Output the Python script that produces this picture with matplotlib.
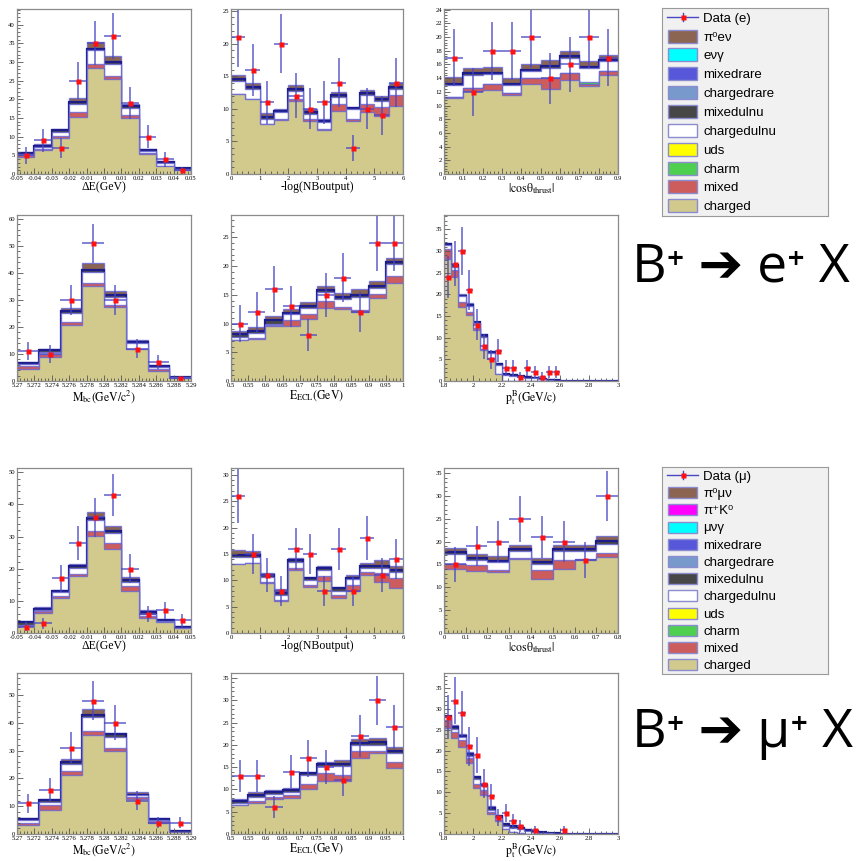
import numpy as np
import matplotlib
matplotlib.use('Agg')
import matplotlib.pyplot as plt
from matplotlib.ticker import MultipleLocator, AutoMinorLocator, FuncFormatter
from matplotlib.patches import Rectangle

plt.rcParams['font.family'] = ['Liberation Serif', 'DejaVu Serif']
plt.rcParams['mathtext.fontset'] = 'stix'

# ---- bin edges ----
de_edges = np.linspace(-0.05, 0.05, 11)
nb_edges = np.linspace(0, 6, 13)
cos_e_edges = np.linspace(0, 0.9, 10)
cos_mu_edges = np.linspace(0, 0.8, 9)
mbc_edges = np.linspace(5.27, 5.29, 9)
ecl_edges = np.linspace(0.5, 1.0, 11)
pt_edges = np.linspace(1.8, 3.0, 25)

# ---- B+ -> e+ X ----
de_e_charged = [4.6, 6.3, 9.6, 15.4, 28.4, 25.5, 14.9, 5.4, 2.1, 1.1]
de_e_mixed = [0.4, 0.3, 0.7, 1.2, 1.0, 0.8, 0.9, 0.3, 0.1, 0.05]
de_e_ulnu = [0.3, 0.5, 1.0, 2.1, 3.7, 3.1, 1.8, 0.5, 0.8, 0.25]
de_e_xulnu = [0.3, 0.5, 0.4, 0.6, 0.5, 0.6, 0.7, 0.3, 0.3, 0.2]
de_e_sig = [0.4, 0.4, 0.3, 1.0, 1.7, 1.7, 0.5, 0.2, 0.2, 0.1]
de_e_data = [5, 9, 7, 25, 35, 37, 19, 10, 4, 1]

nb_e_charged = [12.3, 11.5, 7.6, 8.35, 11.2, 8.1, 6.7, 9.7, 8.1, 9.5, 8.95, 10.5]
nb_e_mixed = [0.0, 0.0, 0.1, 0.15, 0.3, 0.35, 0.2, 1.0, 0.35, 1.2, 1.25, 1.6]
nb_e_ulnu = [1.9, 1.5, 0.8, 1.0, 1.25, 0.75, 1.0, 1.15, 1.45, 1.4, 1.0, 0.9]
nb_e_xulnu = [0.3, 0.3, 0.2, 0.2, 0.25, 0.3, 0.2, 0.25, 0.2, 0.25, 0.35, 0.35]
nb_e_sig = [0.7, 0.6, 0.65, 0.3, 0.7, 0.5, 0.35, 0.5, 0.2, 0.55, 0.45, 0.65]
nb_e_data = [21, 16, 11, 20, 12, 10, 11, 14, 4, 10, 9, 14]

cos_e_charged = [11.1, 12.15, 12.25, 11.5, 13.1, 12.35, 13.7, 12.8, 14.4]
cos_e_mixed = [0.2, 0.45, 0.95, 0.4, 0.85, 1.6, 1.05, 0.4, 0.65]
cos_e_charm = [0, 0, 0, 0, 0, 0, 0, 0.3, 0]
cos_e_ulnu = [1.7, 1.8, 1.4, 1.1, 1.05, 1.6, 2.25, 1.95, 1.45]
cos_e_xulnu = [0.2, 0.3, 0.2, 0.2, 0.25, 0.25, 0.2, 0.2, 0.2]
cos_e_sig = [1.0, 0.8, 0.85, 0.75, 0.85, 0.8, 0.8, 0.85, 0.75]
cos_e_data = [17, 12, 18, 18, 20, 14, 16, 20, 17]

mbc_e_charged = [4.3, 8.8, 20.7, 35.2, 27.3, 11.7, 3.7, 1.0]
mbc_e_mixed = [1.4, 1.1, 1.3, 1.0, 0.8, 0.3, 0.9, 0.05]
mbc_e_ulnu = [0.5, 1.0, 3.1, 4.3, 3.1, 2.0, 0.7, 0.25]
mbc_e_xulnu = [0.3, 0.6, 0.7, 0.6, 0.65, 0.6, 0.3, 0.2]
mbc_e_sig = [0.4, 0.35, 1.4, 2.5, 1.65, 0.6, 0.3, 0.1]
mbc_e_data = [11, 10, 30, 51, 30, 12, 7, 1]

ecl_e_charged = [7.1, 7.3, 9.6, 9.6, 10.8, 12.75, 12.5, 11.95, 14.4, 17.1]
ecl_e_mixed = [0.1, 0.2, 0.1, 1.0, 0.8, 1.15, 0.4, 0.4, 0.7, 1.2]
ecl_e_ulnu = [0.5, 0.8, 0.3, 1.0, 1.15, 1.65, 1.3, 2.35, 1.15, 2.0]
ecl_e_xulnu = [0.5, 0.4, 0.6, 0.3, 0.3, 0.25, 0.35, 0.3, 0.25, 0.35]
ecl_e_sig = [0.5, 0.75, 0.7, 0.6, 0.75, 0.8, 0.85, 0.95, 0.95, 0.85]
ecl_e_data = [10, 12, 16, 13, 8, 15, 18, 12, 24, 24]

pt_e_charged = [28.2, 23.9, 17.0, 15.2, 11.8, 7.15, 5.0, 1.5, 0.1, 0.05, 0, 0,
                0, 0, 0, 0, 0, 0, 0, 0, 0, 0, 0, 0]
pt_e_mixed = [2.2, 1.7, 1.3, 0.8, 0.35, 0.25, 0.2, 0.05, 0, 0, 0, 0,
              0, 0, 0, 0, 0, 0, 0, 0, 0, 0, 0, 0]
pt_e_ulnu = [1.0, 0.8, 1.2, 1.2, 1.15, 2.8, 1.2, 2.1, 1.3, 1.2, 0.9, 0.8,
             0.6, 0.4, 0.2, 0.1, 0, 0, 0, 0, 0, 0, 0, 0]
pt_e_xulnu = [0.3, 0.4, 0.2, 0.3, 0.2, 0.4, 0.4, 0.3, 0.2, 0.2, 0.2, 0.2,
              0.2, 0.15, 0.1, 0.05, 0, 0, 0, 0, 0, 0, 0, 0]
pt_e_sig = [0.1, 0.2, 0.3, 0.4, 0.2, 0.2, 0.2, 0.15, 0.1, 0.1, 0.1, 0.1,
            0.1, 0.05, 0.05, 0.05, 0, 0, 0, 0, 0, 0, 0, 0]
pt_e_data = [24, 27, 30, 21, 13, 8, 5, 7, 3, 3, 1, 3,
             2, 1, 2, 2, 0, 0, 0, 0, 0, 0, 0, 0]

# ---- B+ -> mu+ X ----
de_mu_charged = [2.1, 6.2, 10.9, 17.8, 30.3, 26.1, 13.2, 4.7, 3.3, 1.55]
de_mu_mixed = [0.3, 0.5, 0.5, 0.6, 1.5, 1.9, 1.3, 0.5, 0.2, 0.05]
de_mu_ulnu = [0.2, 0.55, 1.25, 1.8, 3.2, 3.1, 1.3, 0.7, 0.1, 0.1]
de_mu_xulnu = [0.8, 0.35, 0.55, 0.5, 0.8, 0.5, 0.6, 0.6, 0.5, 0.3]
de_mu_sig = [0.4, 0.4, 0.3, 0.9, 1.9, 1.6, 0.9, 0.5, 0.25, 0.1]
de_mu_data = [2, 3, 17, 28, 36, 43, 20, 6, 7, 4]

nb_mu_charged = [13.05, 13.2, 9.55, 6.0, 11.9, 8.65, 9.85, 6.7, 8.0, 11.0, 9.7, 8.5]
nb_mu_mixed = [0.0, 0.0, 0.05, 0.3, 0.5, 0.45, 1.0, 0.5, 1.2, 0.5, 1.6, 1.85]
nb_mu_ulnu = [1.35, 1.2, 1.1, 0.9, 1.1, 0.95, 1.05, 0.8, 1.0, 0.9, 0.95, 1.15]
nb_mu_xulnu = [0.35, 0.35, 0.3, 0.3, 0.3, 0.3, 0.35, 0.5, 0.3, 0.35, 0.45, 0.4]
nb_mu_sig = [1.05, 0.8, 0.4, 0.8, 0.45, 0.35, 0.45, 0.3, 0.5, 0.45, 1.1, 0.8]
nb_mu_data = [26, 15, 11, 8, 16, 15, 8, 16, 8, 18, 11, 14]

cos_mu_charged = [13.95, 13.6, 13.25, 16.15, 11.75, 14.1, 15.95, 16.7]
cos_mu_mixed = [1.15, 1.25, 0.55, 0.3, 2.05, 1.85, 0.2, 0.7]
cos_mu_ulnu = [2.1, 1.1, 1.65, 1.55, 1.4, 2.05, 1.85, 2.15]
cos_mu_xulnu = [0.45, 0.35, 0.35, 0.3, 0.4, 0.3, 0.3, 0.55]
cos_mu_sig = [0.85, 0.9, 1.1, 1.05, 0.9, 0.9, 0.9, 1.05]
cos_mu_data = [15, 19, 20, 25, 21, 20, 16, 30]

mbc_mu_charged = [3.25, 8.7, 21.3, 35.5, 29.9, 12.45, 3.85, 0.6]
mbc_mu_mixed = [0.8, 1.75, 1.4, 1.5, 0.9, 0.95, 0.8, 0.05]
mbc_mu_ulnu = [0.95, 1.15, 2.3, 5.1, 4.1, 0.55, 0.35, 0.15]
mbc_mu_xulnu = [0.5, 0.6, 0.8, 0.7, 0.9, 0.25, 0.5, 0.25]
mbc_mu_sig = [0.3, 0.35, 1.3, 2.2, 0.7, 0.9, 0.3, 0.1]
mbc_mu_data = [11, 16, 31, 48, 40, 12, 4, 4]

ecl_mu_charged = [6.4, 7.0, 7.75, 8.1, 10.0, 11.95, 11.95, 17.0, 18.1, 14.85]
ecl_mu_mixed = [0.1, 0.45, 0.6, 0.6, 1.2, 1.65, 1.25, 1.6, 0.4, 1.25]
ecl_mu_ulnu = [0.4, 0.9, 0.7, 0.7, 2.0, 1.6, 2.0, 1.3, 1.4, 2.0]
ecl_mu_xulnu = [0.5, 0.5, 0.35, 0.4, 0.4, 0.4, 0.5, 0.6, 0.7, 0.5]
ecl_mu_sig = [0.4, 0.55, 0.5, 0.5, 0.3, 0.5, 0.8, 0.9, 1.0, 1.0]
ecl_mu_data = [13, 13, 6, 14, 17, 15, 12, 22, 30, 24]

pt_mu_charged = [25.3, 22.9, 20.9, 17.05, 11.0, 9.45, 4.8, 3.1, 1.15, 0.5, 0.3, 0.1,
                 0, 0, 0, 0, 0, 0, 0, 0, 0, 0, 0, 0]
pt_mu_mixed = [2.0, 1.5, 1.6, 1.15, 1.0, 1.0, 0.4, 0.3, 0.05, 0, 0, 0,
               0, 0, 0, 0, 0, 0, 0, 0, 0, 0, 0, 0]
pt_mu_ulnu = [0.7, 0.8, 0.75, 0.55, 1.2, 1.05, 0.6, 0.5, 0.7, 1.05, 0.9, 0.7,
              0.55, 0.3, 0.2, 0.1, 0.05, 0, 0, 0, 0, 0, 0, 0]
pt_mu_xulnu = [0.3, 0.5, 0.35, 0.45, 0.4, 0.3, 0.55, 0.4, 0.4, 0.25, 0.25, 0.2,
               0.15, 0.1, 0.1, 0.05, 0.05, 0, 0, 0, 0, 0, 0, 0]
pt_mu_sig = [0.1, 0.4, 0.4, 0.4, 0.35, 0.2, 0.25, 0.35, 0.4, 0.2, 0.15, 0.1,
             0.1, 0.1, 0.05, 0.05, 0, 0, 0, 0, 0, 0, 0, 0]
pt_mu_data = [28, 32, 29, 21, 19, 12, 9, 4, 5, 3, 2, 0,
              1, 0, 0, 0, 1, 0, 0, 0, 0, 0, 0, 0]

# ---- colours ----
c_charged = '#d2ca8c'
c_mixed = '#cd5c5c'
c_charm = '#4fcf4f'
c_uds = '#ffff00'
c_ulnu = '#ffffff'
c_xulnu = '#474747'
c_crare = '#7799cc'
c_mrare = '#5757d9'
c_gamma = '#00ffff'
c_pik = '#ff00ff'
c_sig = '#8b6452'
c_edge = (0.38, 0.38, 0.85, 0.75)
c_err = '#4848c4'
c_red = '#ff1111'

W, H = 859, 861
fig = plt.figure(figsize=(W / 100, H / 100), dpi=100)


def box(x0, y0, x1, y1):
    return [x0 / W, 1 - y1 / H, (x1 - x0) / W, (y1 - y0) / H]


def fmt(v, pos):
    return '%g' % (round(v, 4) + 0.0)


def panel(rect, edges, layers, data, ymax, ystep, xstep, xlabel):
    ax = fig.add_axes(box(*rect))
    edges = np.asarray(edges)
    tops = np.cumsum([np.asarray(v, float) for v, _ in layers], axis=0)
    # stacked histogram, drawn top layer first like a THStack
    for (vals, fc), top in reversed(list(zip(layers, tops))):
        if fc == c_xulnu:
            ec, lw = '#1c1c8c', 1.6
        else:
            ec, lw = c_edge, 1.0
        ax.stairs(top, edges, fill=True, facecolor=fc, edgecolor=ec, linewidth=lw)
    d = np.asarray(data, float)
    cen = 0.5 * (edges[1:] + edges[:-1])
    half = 0.5 * np.diff(edges)
    m = d > 0
    ax.errorbar(cen[m], d[m], xerr=half[m], yerr=np.sqrt(d[m]), fmt='none',
                ecolor=c_err, elinewidth=1.3, alpha=0.75, capsize=0)
    ax.plot(cen[m], d[m], 's', color=c_red, ms=3.6, mec='none')
    ax.set_xlim(edges[0], edges[-1])
    ax.set_ylim(0, ymax)
    ax.xaxis.set_major_locator(MultipleLocator(xstep))
    ax.xaxis.set_minor_locator(AutoMinorLocator(5))
    ax.yaxis.set_major_locator(MultipleLocator(ystep))
    ax.yaxis.set_minor_locator(AutoMinorLocator(5))
    ax.xaxis.set_major_formatter(FuncFormatter(fmt))
    ax.yaxis.set_major_formatter(FuncFormatter(fmt))
    ax.tick_params(which='both', direction='in', top=False, right=False,
                   color='#555555', width=0.6, labelsize=4.8, pad=1.5)
    ax.tick_params(which='major', length=4)
    ax.tick_params(which='minor', length=2)
    for s in ax.spines.values():
        s.set_color('#8a8a8a')
        s.set_linewidth(0.9)
    ax.set_xlabel(xlabel, fontsize=8.5, labelpad=0)
    return ax


cols = [(17, 191), (231, 403), (444, 618)]
rows = [(9, 174), (215, 381), (468, 633), (673, 834)]

lab_de = 'ΔE(GeV)'
lab_nb = '-log(NBoutput)'
lab_cos = r'$\mathrm{|cos\theta_{thrust}|}$'
lab_mbc = r'$\mathrm{M_{bc}(GeV/c^{2})}$'
lab_ecl = r'$\mathrm{E_{ECL}(GeV)}$'
lab_pt = r'$\mathrm{p_{t}^{B}(GeV/c)}$'


def rect(r, c):
    return (cols[c][0], rows[r][0], cols[c][1], rows[r][1])


# electron channel
panel(rect(0, 0), de_edges,
      [(de_e_charged, c_charged), (de_e_mixed, c_mixed), (de_e_ulnu, c_ulnu),
       (de_e_xulnu, c_xulnu), (de_e_sig, c_sig)],
      de_e_data, 44.2, 5, 0.01, lab_de)
panel(rect(0, 1), nb_edges,
      [(nb_e_charged, c_charged), (nb_e_mixed, c_mixed), (nb_e_ulnu, c_ulnu),
       (nb_e_xulnu, c_xulnu), (nb_e_sig, c_sig)],
      nb_e_data, 25.3, 5, 1, lab_nb)
panel(rect(0, 2), cos_e_edges,
      [(cos_e_charged, c_charged), (cos_e_mixed, c_mixed), (cos_e_charm, c_charm),
       (cos_e_ulnu, c_ulnu), (cos_e_xulnu, c_xulnu), (cos_e_sig, c_sig)],
      cos_e_data, 24.1, 2, 0.1, lab_cos)
panel(rect(1, 0), mbc_edges,
      [(mbc_e_charged, c_charged), (mbc_e_mixed, c_mixed), (mbc_e_ulnu, c_ulnu),
       (mbc_e_xulnu, c_xulnu), (mbc_e_sig, c_sig)],
      mbc_e_data, 61.5, 10, 0.002, lab_mbc)
panel(rect(1, 1), ecl_edges,
      [(ecl_e_charged, c_charged), (ecl_e_mixed, c_mixed), (ecl_e_ulnu, c_ulnu),
       (ecl_e_xulnu, c_xulnu), (ecl_e_sig, c_sig)],
      ecl_e_data, 28.9, 5, 0.05, lab_ecl)
panel(rect(1, 2), pt_edges,
      [(pt_e_charged, c_charged), (pt_e_mixed, c_mixed), (pt_e_ulnu, c_ulnu),
       (pt_e_xulnu, c_xulnu), (pt_e_sig, c_sig)],
      pt_e_data, 38.3, 5, 0.2, lab_pt)

# muon channel
panel(rect(2, 0), de_edges,
      [(de_mu_charged, c_charged), (de_mu_mixed, c_mixed), (de_mu_ulnu, c_ulnu),
       (de_mu_xulnu, c_xulnu), (de_mu_sig, c_sig)],
      de_mu_data, 51.3, 10, 0.01, lab_de)
panel(rect(2, 1), nb_edges,
      [(nb_mu_charged, c_charged), (nb_mu_mixed, c_mixed), (nb_mu_ulnu, c_ulnu),
       (nb_mu_xulnu, c_xulnu), (nb_mu_sig, c_sig)],
      nb_mu_data, 31.3, 5, 1, lab_nb)
panel(rect(2, 2), cos_mu_edges,
      [(cos_mu_charged, c_charged), (cos_mu_mixed, c_mixed), (cos_mu_ulnu, c_ulnu),
       (cos_mu_xulnu, c_xulnu), (cos_mu_sig, c_sig)],
      cos_mu_data, 36.1, 5, 0.1, lab_cos)
panel(rect(3, 0), mbc_edges,
      [(mbc_mu_charged, c_charged), (mbc_mu_mixed, c_mixed), (mbc_mu_ulnu, c_ulnu),
       (mbc_mu_xulnu, c_xulnu), (mbc_mu_sig, c_sig)],
      mbc_mu_data, 57.9, 10, 0.002, lab_mbc)
panel(rect(3, 1), ecl_edges,
      [(ecl_mu_charged, c_charged), (ecl_mu_mixed, c_mixed), (ecl_mu_ulnu, c_ulnu),
       (ecl_mu_xulnu, c_xulnu), (ecl_mu_sig, c_sig)],
      ecl_mu_data, 36.1, 5, 0.05, lab_ecl)
panel(rect(3, 2), pt_edges,
      [(pt_mu_charged, c_charged), (pt_mu_mixed, c_mixed), (pt_mu_ulnu, c_ulnu),
       (pt_mu_xulnu, c_xulnu), (pt_mu_sig, c_sig)],
      pt_mu_data, 38.6, 5, 0.2, lab_pt)

# ---- legends ----
legend_e = [('π⁰eν', c_sig), ('eνγ', c_gamma), ('mixedrare', c_mrare),
            ('chargedrare', c_crare), ('mixedulnu', c_xulnu), ('chargedulnu', c_ulnu),
            ('uds', c_uds), ('charm', c_charm), ('mixed', c_mixed), ('charged', c_charged)]
legend_mu = [('π⁰μν', c_sig), ('π⁺K⁰', c_pik), ('μνγ', c_gamma), ('mixedrare', c_mrare),
             ('chargedrare', c_crare), ('mixedulnu', c_xulnu), ('chargedulnu', c_ulnu),
             ('uds', c_uds), ('charm', c_charm), ('mixed', c_mixed), ('charged', c_charged)]

sans = ['Liberation Sans', 'DejaVu Sans']


def legend(rect_px, entries, data_label, row0, dy, sw_h):
    x0, y0, x1, y1 = rect_px
    lg = fig.add_axes(box(*rect_px))
    lg.set_xlim(0, x1 - x0)
    lg.set_ylim(y1 - y0, 0)
    lg.set_facecolor('#f1f1f1')
    lg.set_xticks([])
    lg.set_yticks([])
    for s in lg.spines.values():
        s.set_color('#9a9a9a')
        s.set_linewidth(0.8)
    yc = row0
    lg.plot([5, 36], [yc, yc], color=c_err, lw=1)
    lg.plot([20.5, 20.5], [yc - 4, yc + 4], color=c_err, lw=1)
    lg.plot(20.5, yc, 's', color=c_red, ms=3.6, mec='none')
    lg.text(41, yc, data_label, va='center_baseline', fontsize=9.5, family=sans)
    for i, (label, fc) in enumerate(entries, start=1):
        yc = row0 + i * dy
        lg.add_patch(Rectangle((5.7, yc - sw_h / 2), 29.6, sw_h, facecolor=fc,
                               edgecolor='#8c8cd0', lw=1))
        lg.text(41, yc, label, va='center_baseline', fontsize=9.5, family=sans)


legend((662, 8, 828, 216), legend_e, 'Data (e)', 9.3, 18.84, 13)
legend((662, 467, 828, 674), legend_mu, 'Data (μ)', 8.4, 17.2, 11)

big = ['Open Sans', 'DejaVu Sans']
fig.text(632 / W, 1 - 268 / H, 'B⁺ ➔ e⁺ X', fontsize=38.5, family=big, va='center', ha='left')
fig.text(632 / W, 1 - 733 / H, 'B⁺ ➔ μ⁺ X', fontsize=38.5, family=big, va='center', ha='left')

fig.savefig('out.png', dpi=100, facecolor='white')
